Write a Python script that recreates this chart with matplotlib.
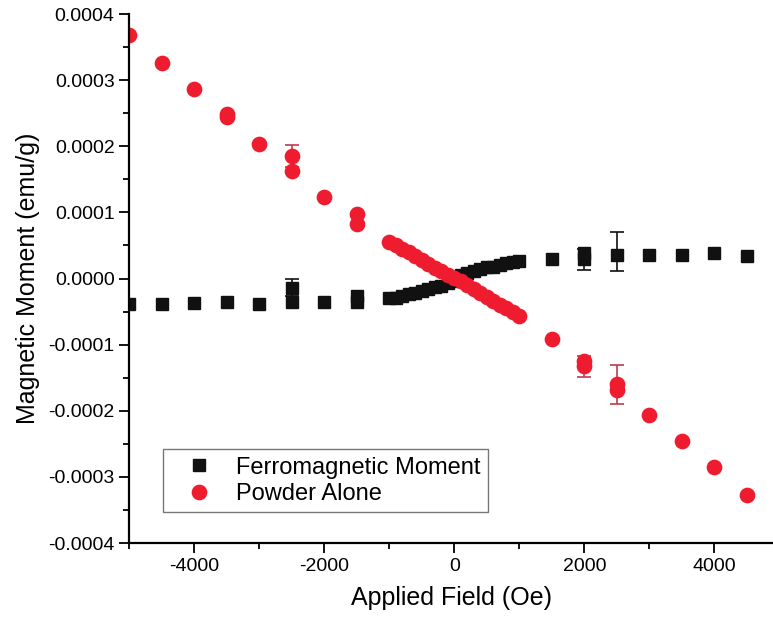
import numpy as np
import matplotlib
matplotlib.use("Agg")
import matplotlib.pyplot as plt
from matplotlib.ticker import MultipleLocator, FormatStrFormatter

plt.rcParams['font.family'] = ['Liberation Sans', 'DejaVu Sans']
plt.rcParams['axes.unicode_minus'] = False

# Ferromagnetic moment (black squares)
ferro_field = [-5000, -4500, -4000, -3500, -3000, -2500, -2000, -1500, -1500,
               -1000, -900, -800, -700, -600, -500, -400, -300, -200, -100, 0,
               100, 200, 300, 400, 500, 600, 700, 800, 900, 1000,
               1500, 2000, 3000, 3500, 4000, 4500]
ferro_moment = [-3.8e-5, -3.8e-5, -3.7e-5, -3.5e-5, -3.8e-5, -3.6e-5, -3.5e-5, -2.6e-5, -3.6e-5,
                -3.0e-5, -2.9e-5, -2.6e-5, -2.4e-5, -2.2e-5, -1.9e-5, -1.6e-5, -1.3e-5, -1.1e-5, -0.6e-5, -0.3e-5,
                0.5e-5, 0.9e-5, 1.2e-5, 1.5e-5, 1.8e-5, 1.7e-5, 2.1e-5, 2.4e-5, 2.5e-5, 2.6e-5,
                2.9e-5, 3.9e-5, 3.5e-5, 3.5e-5, 3.8e-5, 3.4e-5]
# points with error bars
ferro_err_field = [-2500, 2000, 2500]
ferro_err_moment = [-1.4e-5, 2.9e-5, 3.6e-5]
ferro_err_low = [1.3e-5, 1.6e-5, 2.4e-5]
ferro_err_high = [1.3e-5, 1.6e-5, 3.4e-5]

# Powder alone (red circles)
powder_field = [-5000, -4500, -4000, -3500, -3500, -3000, -2500, -2000, -1500, -1500,
                -1000, -900, -800, -700, -600, -500, -400, -300, -200, -100, 0,
                100, 200, 300, 400, 500, 600, 700, 800, 900, 1000,
                1500, 2000, 2500, 3000, 3500, 4000, 4500]
powder_moment = [3.68e-4, 3.26e-4, 2.86e-4, 2.49e-4, 2.44e-4, 2.03e-4, 1.62e-4, 1.24e-4, 0.97e-4, 0.82e-4,
                 5.6e-5, 5.0e-5, 4.5e-5, 4.0e-5, 3.4e-5, 2.8e-5, 2.2e-5, 1.6e-5, 1.1e-5, 0.5e-5, 0.1e-5,
                 -0.4e-5, -1.0e-5, -1.6e-5, -2.2e-5, -2.8e-5, -3.4e-5, -4.0e-5, -4.5e-5, -5.0e-5, -5.7e-5,
                 -0.92e-4, -1.25e-4, -1.68e-4, -2.07e-4, -2.46e-4, -2.85e-4, -3.28e-4]
powder_err_field = [-2500, 2000, 2500]
powder_err_moment = [1.85e-4, -1.33e-4, -1.60e-4]
powder_err = [0.17e-4, 0.16e-4, 0.29e-4]

fig = plt.figure(figsize=(7.73, 6.23), dpi=100)
ax = fig.add_axes([0.167, 0.1284, 0.833, 0.849])

black = '#111111'
red = '#ee1c2e'

ax.errorbar(ferro_err_field, ferro_err_moment, yerr=[ferro_err_low, ferro_err_high],
            fmt='s', color=black, ms=8.8, elinewidth=1.2, capsize=5, capthick=1.2)
ax.plot(ferro_field, ferro_moment, 's', color=black, ms=8.8, label='Ferromagnetic Moment')
ax.errorbar(powder_err_field, powder_err_moment, yerr=powder_err,
            fmt='o', color=red, ecolor='#c23a50', ms=10.3, elinewidth=1.2, capsize=5, capthick=1.2)
ax.plot(powder_field, powder_moment, 'o', color=red, ms=10.3, label='Powder Alone')

ax.set_xlim(-5000, 4900)
ax.set_ylim(-0.0004, 0.0004)

ax.spines['top'].set_visible(False)
ax.spines['right'].set_visible(False)
ax.spines['left'].set_linewidth(1.6)
ax.spines['bottom'].set_linewidth(1.6)

ax.xaxis.set_major_locator(MultipleLocator(2000))
ax.xaxis.set_minor_locator(MultipleLocator(1000))
ax.yaxis.set_major_locator(MultipleLocator(0.0001))
ax.yaxis.set_minor_locator(MultipleLocator(0.00005))
ax.yaxis.set_major_formatter(FormatStrFormatter('%.4f'))
ax.tick_params(which='major', direction='out', length=7, width=1.3, labelsize=14)
ax.tick_params(which='minor', direction='out', length=4, width=1.3)

ax.set_xlabel('Applied Field (Oe)', fontsize=18, labelpad=8)
ax.set_ylabel('Magnetic Moment (emu/g)', fontsize=18, labelpad=6)

leg = ax.legend(loc='lower left', bbox_to_anchor=(0.053, 0.058), fontsize=17,
                frameon=True, fancybox=False, edgecolor='#555555', handlelength=2.4,
                handletextpad=0.4, borderpad=0.3, labelspacing=0.2, borderaxespad=0)
leg.get_frame().set_linewidth(1.0)

fig.savefig('out.png', dpi=100)
